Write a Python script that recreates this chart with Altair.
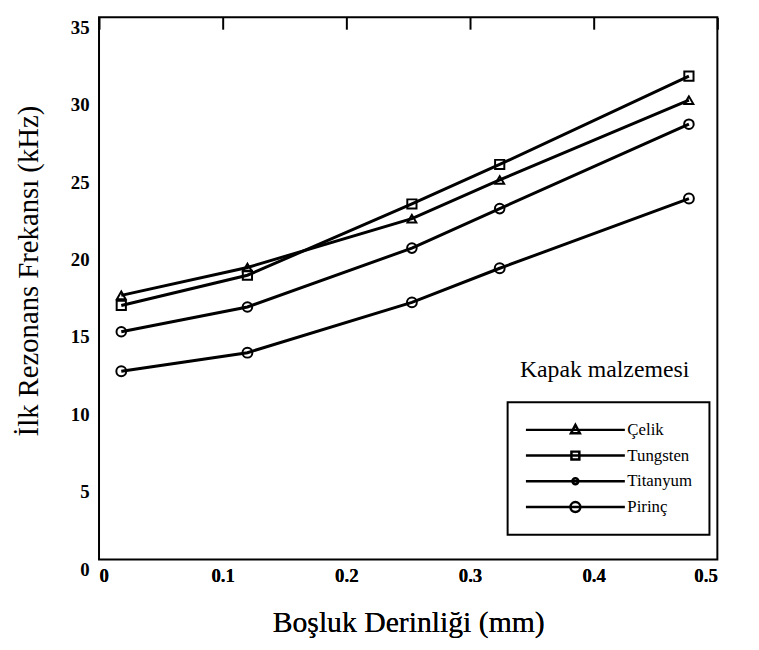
import altair as alt
import pandas as pd

# ---- data ----
x_mm = [0.018, 0.12, 0.253, 0.324, 0.477]
series = ["Çelik", "Tungsten", "Titanyum", "Pirinç"]
celik = [17.05, 18.85, 22.0, 24.5, 29.65]
tungsten = [16.4, 18.35, 22.95, 25.5, 31.2]
titanyum = [14.7, 16.3, 20.1, 22.65, 28.1]
pirinc = [12.15, 13.35, 16.6, 18.8, 23.3]
x_ticks = [0, 0.1, 0.2, 0.3, 0.4, 0.5]
y_ticks = [0, 5, 10, 15, 20, 25, 30, 35]
legend_title = ["Kapak malzemesi"]
x_title = "Boşluk Derinliği (mm)"
y_title = "İlk Rezonans Frekansı  (kHz)"

vals = {"Çelik": celik, "Tungsten": tungsten, "Titanyum": titanyum, "Pirinç": pirinc}
df = pd.DataFrame(
    [{"x": x, "y": v, "series": s} for s in series for x, v in zip(x_mm, vals[s])]
)

FONT = "Liberation Serif"

x_scale = alt.Scale(domain=[0, 0.5], nice=False, zero=False)
y_scale = alt.Scale(domain=[0, 35], nice=False)

x_enc = alt.X(
    "x:Q",
    scale=x_scale,
    axis=alt.Axis(
        orient="bottom",
        values=x_ticks,
        labelExpr="datum.value == 0 ? '0' : format(datum.value, '.1f')",
        title=x_title,
        titleFont=FONT,
        titleFontSize=30,
        titleFontWeight="normal",
        titleColor="black",
        titleBaseline="alphabetic",
        titleY=73,
        labelFont=FONT,
        labelFontSize=19,
        labelFontWeight="bold",
        labelColor="black",
        labelPadding=7,
        ticks=False,
        domain=False,
        grid=False,
    ),
)
y_enc = alt.Y(
    "y:Q",
    scale=y_scale,
    axis=alt.Axis(
        values=y_ticks,
        title=y_title,
        titleFont=FONT,
        titleFontSize=29,
        titleFontWeight="normal",
        titleColor="black",
        titleX=-56,
        titleY=256,
        titleAlign="center",
        labelFont=FONT,
        labelFontSize=19,
        labelFontWeight="bold",
        labelColor="black",
        labelPadding=10,
        labelOffset=10,
        ticks=False,
        domain=False,
        grid=False,
    ),
)

base = alt.Chart(df)

lines = base.mark_line(color="black", strokeWidth=3).encode(
    x=x_enc, y=y_enc, detail="series:N"
)

points = base.mark_point(filled=False, color="black", strokeWidth=2, opacity=1).encode(
    x=alt.X(
        "x:Q",
        scale=x_scale,
        axis=alt.Axis(
            orient="top",
            values=x_ticks,
            labels=False,
            ticks=True,
            tickSize=12,
            tickWidth=2,
            tickColor="black",
            offset=-12,
            domain=False,
            grid=False,
            title=None,
        ),
    ),
    y=y_enc,
    shape=alt.Shape(
        "series:N",
        scale=alt.Scale(domain=series, range=["triangle-up", "square", "circle", "circle"]),
        legend=None,
    ),
    size=alt.Size(
        "series:N",
        scale=alt.Scale(domain=series, range=[80, 100, 36, 110]),
        legend=None,
    ),
)

legend_paths = [
    "M-1,0H1M0,-0.1L0.09,0.07L-0.09,0.07Z",
    "M-1,0H1M-0.08,-0.08H0.08V0.08H-0.08Z",
    "M-1,0H1M0.06,0A0.06,0.06,0,1,1,-0.06,0A0.06,0.06,0,1,1,0.06,0",
    "M-1,0H1M0.1,0A0.1,0.1,0,1,1,-0.1,0A0.1,0.1,0,1,1,0.1,0",
]

legend_layer = (
    base.transform_filter("datum.x < 0")
    .mark_point(filled=False, color="black", opacity=1)
    .encode(
        x=x_enc,
        y=y_enc,
        shape=alt.Shape(
            "series:N",
            scale=alt.Scale(domain=series, range=legend_paths),
            legend=alt.Legend(
                title=None,
                orient="none",
                legendX=413,
                legendY=389,
                direction="vertical",
                padding=17,
                strokeColor="black",
                symbolSize=10000,
                symbolStrokeWidth=2.5,
                symbolStrokeColor="black",
                symbolOpacity=1,
                symbolOffset=0,
                labelFont=FONT,
                labelFontSize=17,
                labelColor="black",
                labelOffset=1,
                labelLimit=300,
                clipHeight=22,
                rowPadding=4,
            ),
        ),
    )
)

note = (
    alt.Chart(pd.DataFrame({"t": legend_title}))
    .mark_text(font=FONT, fontSize=24, align="center", baseline="alphabetic", color="black")
    .encode(x=alt.value(511), y=alt.value(364), text="t:N")
)

chart = (
    alt.layer(lines, points, legend_layer, note)
    .resolve_scale(shape="independent")
    .properties(
        width=625,
        height=548,
        autosize=alt.AutoSizeParams(type="none"),
        padding={"left": 92, "top": 6, "right": 34, "bottom": 80},
        background="white",
    )
    .configure_view(stroke="black", strokeWidth=2)
    .configure_legend(strokeWidth=2)
)

chart.save("out.html", embed_options={"renderer": "svg", "actions": False})
